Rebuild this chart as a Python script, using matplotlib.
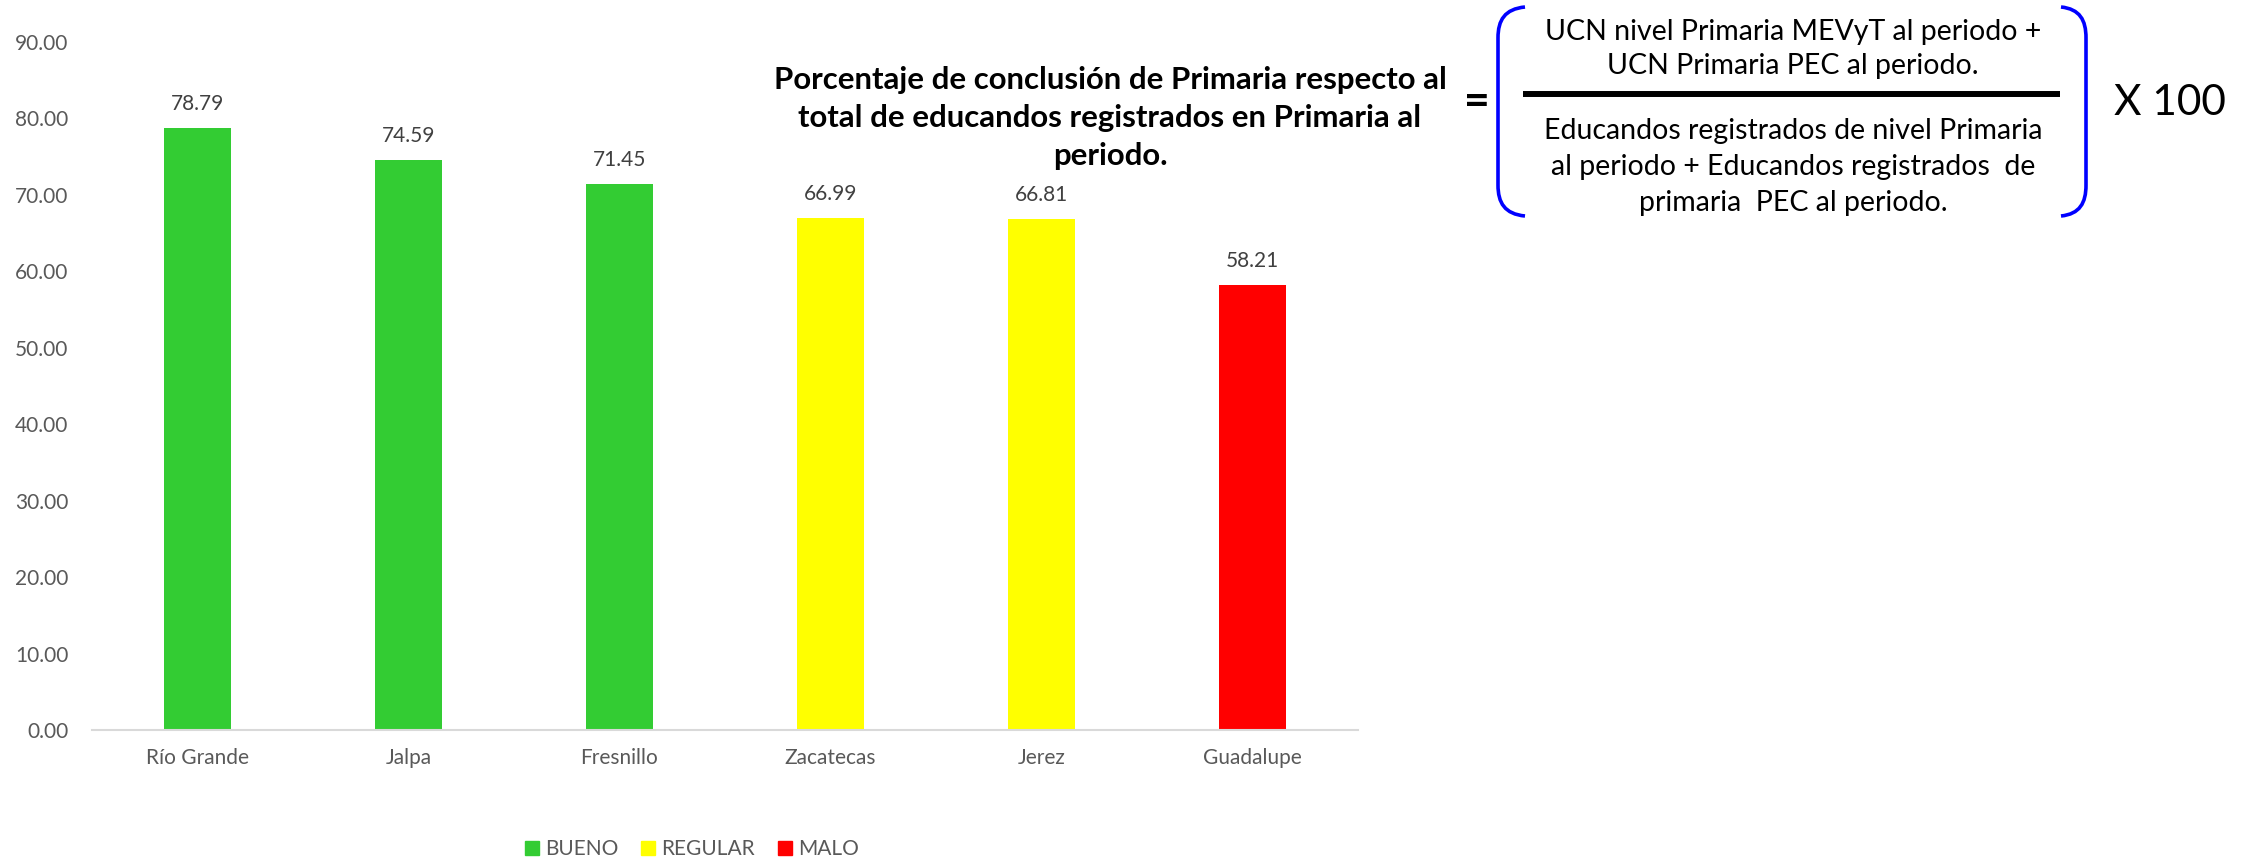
import numpy as np
import matplotlib
matplotlib.use('Agg')
import matplotlib.pyplot as plt
from matplotlib.path import Path
from matplotlib.patches import PathPatch, Patch

plt.rcParams['font.family'] = ['Lato', 'DejaVu Sans']

municipios = ['Río Grande', 'Jalpa', 'Fresnillo', 'Zacatecas', 'Jerez', 'Guadalupe']
porcentaje = [78.79, 74.59, 71.45, 66.99, 66.81, 58.21]
nivel = ['BUENO', 'BUENO', 'BUENO', 'REGULAR', 'REGULAR', 'MALO']
colores = {'BUENO': '#33cc33', 'REGULAR': '#ffff00', 'MALO': '#ff0000'}
yticks = np.arange(0, 91, 10)

W, H = 2244, 858
fig = plt.figure(figsize=(W/100, H/100), dpi=100)

# chart area (pixel positions)
ax = fig.add_axes([92/W, 1-730/H, (1358-92)/W, (730-42)/H])
x = np.arange(len(municipios))
bars = ax.bar(x, porcentaje, width=0.317, color=[colores[n] for n in nivel])
ax.set_xlim(-0.5, len(municipios)-0.5)
ax.set_ylim(0, 90)
ax.set_yticks(yticks)
ax.set_yticklabels(['%.2f' % t for t in yticks])
ax.set_xticks(x)
ax.set_xticklabels(municipios)
ax.tick_params(axis='both', length=0, labelsize=15, labelcolor='#595959')
ax.tick_params(axis='y', pad=17)
ax.tick_params(axis='x', pad=13)
for s in ['top', 'right', 'left']:
    ax.spines[s].set_visible(False)
ax.spines['bottom'].set_color('#d9d9d9')
ax.spines['bottom'].set_linewidth(1.5)
ax.bar_label(bars, labels=['%.2f' % v for v in porcentaje], padding=10,
             fontsize=15, color='#404040')

handles = [Patch(color=colores[k]) for k in ['BUENO', 'REGULAR', 'MALO']]
fig.legend(handles, ['BUENO', 'REGULAR', 'MALO'], loc='center',
           bbox_to_anchor=(692/W, 1-849/H), ncol=3, frameon=False,
           fontsize=15, labelcolor='#595959', handlelength=0.67,
           handleheight=0.67, handletextpad=0.3, columnspacing=1.1,
           borderpad=0)

# overlay in pixel coords for title and formula
ov = fig.add_axes([0, 0, 1, 1])
ov.set_xlim(0, W)
ov.set_ylim(H, 0)
ov.axis('off')

ov.text(1110, 118, 'Porcentaje de conclusión de Primaria respecto al\n'
        'total de educandos registrados en Primaria al\nperiodo.',
        ha='center', va='center', fontsize=22.4, fontweight='bold',
        linespacing=1.42, color='black')

ov.text(1477, 102, '=', ha='center', va='center', fontsize=32, fontweight='bold')

ov.text(1793, 49, 'UCN nivel Primaria MEVyT al periodo +\nUCN Primaria PEC al periodo.',
        ha='center', va='center', fontsize=20.5, linespacing=1.4)
ov.text(1793, 167, 'Educandos registrados de nivel Primaria\n'
        'al periodo + Educandos registrados  de\nprimaria  PEC al periodo.',
        ha='center', va='center', fontsize=20.5, linespacing=1.48)
ov.plot([1523, 2060], [94, 94], color='black', lw=4.3, solid_capstyle='butt')

ov.text(2170, 103, 'X 100', ha='center', va='center', fontsize=30.5)

def bracket(xe, xv):
    verts = [(xe, 7), (xe - 0.75*(xe-xv), 9), (xv, 20), (xv, 38),
             (xv, 185), (xv, 203), (xe - 0.75*(xe-xv), 214), (xe, 216)]
    codes = [Path.MOVETO, Path.CURVE4, Path.CURVE4, Path.CURVE4,
             Path.LINETO, Path.CURVE4, Path.CURVE4, Path.CURVE4]
    ov.add_patch(PathPatch(Path(verts, codes), fill=False, edgecolor='#0000ff', lw=2.6))

bracket(1525, 1498)
bracket(2061, 2086)

fig.savefig('out.png', dpi=100, facecolor='white')
